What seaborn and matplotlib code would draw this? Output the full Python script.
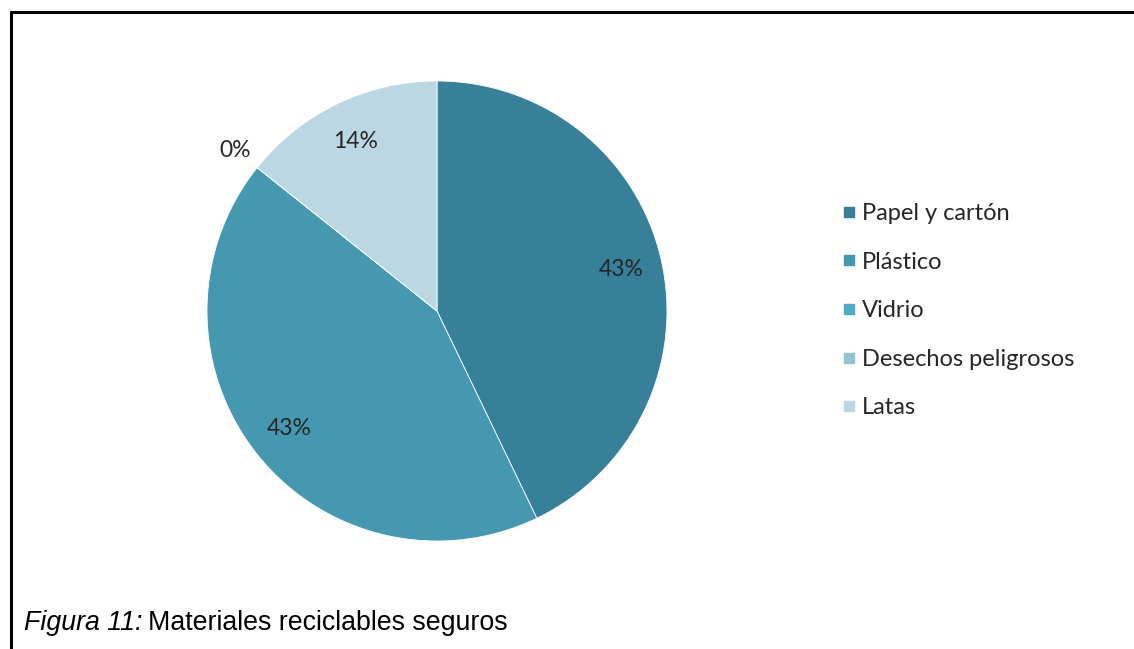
import matplotlib
matplotlib.use("Agg")
import matplotlib.pyplot as plt
from matplotlib.lines import Line2D
import numpy as np
import seaborn as sns

categories = ["Papel y cartón", "Plástico", "Vidrio", "Desechos peligrosos", "Latas"]
values = [3, 3, 0, 0, 1]
colors = ["#37809A", "#4498B0", "#4BACC6", "#93C3D5", "#BBD7E3"]

sns.set_theme(style="white")
plt.rcParams["font.family"] = ["Lato", "DejaVu Sans"]

W, H = 1134, 649
fig = plt.figure(figsize=(W / 100, H / 100), dpi=100)
fig.patch.set_facecolor("white")

# pie axes: centre (437, 311) px from top, radius 230 px
R = 230
cx, cy = 437, H - 311
half = R * 1.25
ax = fig.add_axes([(cx - half) / W, (cy - half) / H, 2 * half / W, 2 * half / H])

palette = sns.color_palette(colors)
wedges, _ = ax.pie(values, colors=palette, startangle=90, counterclock=False,
                   wedgeprops=dict(edgecolor="white", linewidth=0.6))
ax.set_xlim(-1.25, 1.25)
ax.set_ylim(-1.25, 1.25)
ax.set_aspect("equal")
ax.axis("off")

total = sum(values)
seen_zero_angles = set()
for w, v in zip(wedges, values):
    pct = 100 * v / total
    ang = np.deg2rad((w.theta1 + w.theta2) / 2)
    if v == 0:
        key = round(w.theta1, 3)
        if key in seen_zero_angles:
            continue
        seen_zero_angles.add(key)
        r = 1.12
    else:
        r = 0.82
    ax.text(r * np.cos(ang), r * np.sin(ang), f"{pct:.0f}%",
            ha="center", va="center", fontsize=16.5, color="#262626")

handles = [Line2D([0], [0], marker="s", linestyle="none", markersize=7.5,
                  markerfacecolor=c, markeredgecolor=c) for c in colors]
fig.legend(handles, categories, loc="upper left",
           bbox_to_anchor=(838 / W, 1 - 203 / H), frameon=False,
           fontsize=17, labelspacing=1.17, handletextpad=0.12,
           handlelength=0.9, borderaxespad=0, borderpad=0,
           labelcolor="#262626")

# frame lines along the top and left of the figure block
fig.add_artist(Line2D([11 / W, 1], [1 - 12 / H, 1 - 12 / H], color="black",
                      linewidth=2.2, transform=fig.transFigure))
fig.add_artist(Line2D([11 / W, 11 / W], [0, 1 - 12 / H], color="black",
                      linewidth=2.2, transform=fig.transFigure))

cap_y = 1 - 623 / H
t1 = fig.text(24 / W, cap_y, "Figura 11:", fontsize=19.3, style="italic",
              family="Liberation Sans", va="center", ha="left", color="black")
renderer = fig.canvas.get_renderer()
x_end = t1.get_window_extent(renderer).x1
fig.text((x_end + 6) / W, cap_y, "Materiales reciclables seguros", fontsize=19.3,
         family="Liberation Sans", va="center", ha="left", color="black")

fig.savefig("out.png", dpi=100, facecolor="white")
